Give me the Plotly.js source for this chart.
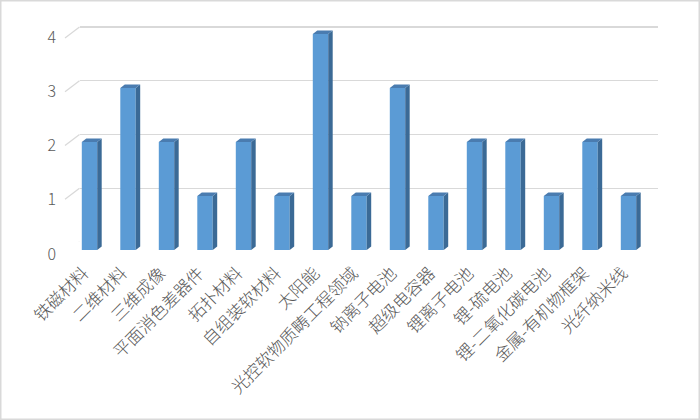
<!DOCTYPE html>
<html>
<head>
<meta charset="utf-8">
<script src="https://cdn.plot.ly/plotly-3.0.1.min.js"></script>
<style>
  html, body { margin: 0; padding: 0; background: #ffffff; }
  #chart { width: 700px; height: 420px; }
</style>
</head>
<body>
<div id="chart"></div>
<script>
// Research topics and the number of items in each
const categories = [
  '铁磁材料', '二维材料', '三维成像', '平面消色差器件', '拓扑材料',
  '自组装软材料', '太阳能', '光控软物质畴工程领域', '钠离子电池', '超级电容器',
  '锂离子电池', '锂-硫电池', '锂-二氧化碳电池', '金属-有机物框架', '光纤纳米线'
];
const counts = [2, 3, 2, 1, 2, 1, 4, 1, 3, 1, 2, 2, 1, 2, 1];
const yTicks = [0, 1, 2, 3, 4];
const yTickText = ['0', '1', '2', '3', '4'];

// ---- layout helpers (pixel -> paper fraction) ----
const W = 700, H = 420;
const fx = px => px / W;
const fy = py => 1 - py / H;

const Y_MAX = 4.4;
const FONT = '"Noto Sans CJK SC", "Noto Sans", sans-serif';
const TEXT = '#595959';

// plot geometry (pixels)
const barZero = 250, barUnit = 54;        // bar plane
const wallZero = 242, wallUnit = 53.75;   // back wall (gridlines)
const frontZero = 254, frontUnit = 54.25; // front edge (value labels)

const idx = categories.map((_, i) => i);
const halfW = 0.2;            // half of bar width in category units
const depthX = 4.5 / 38.5;    // 3-D depth, category units
const depthY = 3.5 / barUnit; // 3-D depth, value units

// bar faces: side and top for the extruded look
const faceShapes = [];
counts.forEach((v, i) => {
  const l = i - halfW, r = i + halfW;
  faceShapes.push({
    type: 'path', xref: 'x2', yref: 'y2', layer: 'above',
    path: `M ${r},0 L ${r + depthX},${depthY} L ${r + depthX},${v + depthY} L ${r},${v} Z`,
    fillcolor: '#3B6A96', line: { width: 0 }
  });
  faceShapes.push({
    type: 'path', xref: 'x2', yref: 'y2', layer: 'above',
    path: `M ${l},${v} L ${r},${v} L ${r + depthX},${v + depthY} L ${l + depthX},${v + depthY} Z`,
    fillcolor: '#4A7CB0', line: { width: 0 }
  });
});

// short slanted connectors from the front edge to the back wall gridlines
const floorLinks = yTicks.map(t => ({
  type: 'line', xref: 'paper', yref: 'y', ysizemode: 'pixel', yanchor: t,
  x0: fx(65), x1: fx(79.5), y0: -11, y1: 0,
  line: { color: '#D9D9D9', width: 1.3 }, layer: 'below'
}));

const border = {
  type: 'rect', xref: 'paper', yref: 'paper', x0: 0, x1: 1, y0: 0, y1: 1,
  line: { color: '#D9D9D9', width: 3 }, fillcolor: 'rgba(0,0,0,0)'
};

const traces = [
  // back wall subplot (holds the gridlines)
  { type: 'scatter', x: [], y: [], xaxis: 'x', yaxis: 'y', hoverinfo: 'skip', showlegend: false },
  // bars
  {
    type: 'bar', x: idx, y: counts, xaxis: 'x2', yaxis: 'y2', width: 2 * halfW,
    marker: { color: '#5B9BD5', line: { width: 0 } },
    hoverinfo: 'skip', showlegend: false
  },
  // front value axis
  { type: 'scatter', x: [], y: [], xaxis: 'x2', yaxis: 'y3', hoverinfo: 'skip', showlegend: false }
];

const layout = {
  width: W, height: H,
  margin: { l: 0, r: 0, t: 0, b: 0 },
  paper_bgcolor: '#ffffff', plot_bgcolor: 'rgba(0,0,0,0)',
  font: { family: FONT, color: TEXT },
  showlegend: false,
  xaxis: {
    domain: [fx(79.5), fx(658)], range: [0, 1], visible: false, fixedrange: true
  },
  yaxis: {
    domain: [fy(wallZero), fy(wallZero - Y_MAX * wallUnit)], range: [0, Y_MAX],
    tickvals: yTicks, showticklabels: false, ticks: '',
    showgrid: true, gridcolor: '#D9D9D9', gridwidth: 1.3,
    zeroline: false, showline: false, fixedrange: true
  },
  xaxis2: {
    domain: [fx(70.25), fx(647.75)], range: [-0.5, 14.5], anchor: 'y2',
    tickvals: idx, ticktext: categories, tickangle: -45,
    tickfont: { family: FONT, size: 17, weight: 300, color: TEXT },
    ticklabelstandoff: 9, ticklabelshift: -6,
    ticks: '', showgrid: false, zeroline: false, showline: false, fixedrange: true
  },
  yaxis2: {
    domain: [fy(barZero), fy(barZero - Y_MAX * barUnit)], range: [0, Y_MAX], anchor: 'x2',
    visible: false, fixedrange: true
  },
  yaxis3: {
    domain: [fy(frontZero), fy(frontZero - Y_MAX * frontUnit)], range: [0, Y_MAX],
    anchor: 'free', position: fx(56),
    tickvals: yTicks, ticktext: yTickText,
    tickfont: { family: FONT, size: 16, weight: 300, color: TEXT },
    ticks: '', showgrid: false, zeroline: false, showline: false, fixedrange: true
  },
  shapes: [...floorLinks, ...faceShapes, border]
};

Plotly.newPlot('chart', traces, layout, { displayModeBar: false, staticPlot: true });
</script>
</body>
</html>
